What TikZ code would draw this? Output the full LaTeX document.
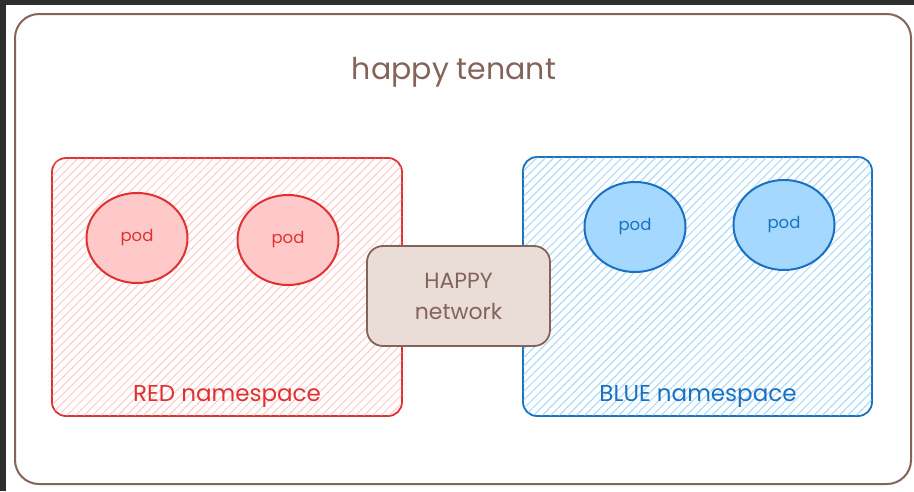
\documentclass[tikz,border=0pt]{standalone}
\usepackage{xcolor}
\usepackage{fontspec}
\setmainfont{Poppins}
\usepackage{tikz}
\usetikzlibrary{shapes,positioning,patterns.meta}

\definecolor{tenantbrown}{HTML}{846358}
\definecolor{netfill}{HTML}{EADDD7}
\definecolor{redline}{HTML}{E03131}
\definecolor{redfill}{HTML}{FFC9C9}
\definecolor{blueline}{HTML}{1971C2}
\definecolor{bluefill}{HTML}{A5D8FF}
\definecolor{frame}{HTML}{2E2E2E}

\begin{document}
\begin{tikzpicture}[
    x=1pt, y=-1pt,
    nsbox/.style={rectangle, rounded corners=14pt, line width=1.8pt, fill=white},
    podnode/.style={ellipse, line width=2pt, minimum width=101pt, minimum height=90pt, font=\fontsize{16.5}{18}\selectfont},
    nslabel/.style={font=\fontsize{23}{26}\selectfont}
]
    \useasboundingbox (0,0) rectangle (914,491);
    % screen frame
    \fill[frame] (0,0) rectangle (914,5);
    \fill[frame] (0,0) rectangle (6,491);

    % Tenant
    \node[rectangle, draw=tenantbrown, rounded corners=24pt, line width=2pt, minimum width=896pt, minimum height=470pt] (tenant) at (463,249) {};
    \node[text=tenantbrown, font=\fontsize{30}{32}\selectfont] (tenantlbl) at (454,72) {happy tenant};

    % Red namespace
    \node[nsbox, draw=redline, minimum width=350pt, minimum height=258pt] (red) at (227,287) {};
    \fill[pattern={Lines[angle=45, distance=6pt, line width=1pt]}, pattern color=redfill, rounded corners=13pt]
        ([shift={(1.5pt,1.5pt)}]red.south west) rectangle ([shift={(-1.5pt,-1.5pt)}]red.north east);
    \node[podnode, draw=redline, fill=redfill, text=redline] (r1) at (137,238) {pod};
    \node[podnode, draw=redline, fill=redfill, text=redline] (r2) at (288,240) {pod};
    \node[nslabel, text=redline] (redlbl) at (227,396) {RED namespace};

    % Blue namespace
    \node[nsbox, draw=blueline, minimum width=349pt, minimum height=259pt] (blue) at (697.5,286.5) {};
    \fill[pattern={Lines[angle=45, distance=6pt, line width=1pt]}, pattern color=bluefill, rounded corners=13pt]
        ([shift={(1.5pt,1.5pt)}]blue.south west) rectangle ([shift={(-1.5pt,-1.5pt)}]blue.north east);
    \node[podnode, draw=blueline, fill=bluefill, text=blueline] (b1) at (635,227) {pod};
    \node[podnode, draw=blueline, fill=bluefill, text=blueline] (b2) at (784,225) {pod};
    \node[nslabel, text=blueline] (bluelbl) at (698,396) {BLUE namespace};

    % Network
    \node[rectangle, draw=tenantbrown, fill=netfill, rounded corners=16pt, line width=1.8pt,
          minimum width=183pt, minimum height=100pt, text=tenantbrown, align=center,
          font=\fontsize{22}{31}\selectfont] (net) at (458.5,296) {HAPPY\\network};
\end{tikzpicture}
\end{document}
